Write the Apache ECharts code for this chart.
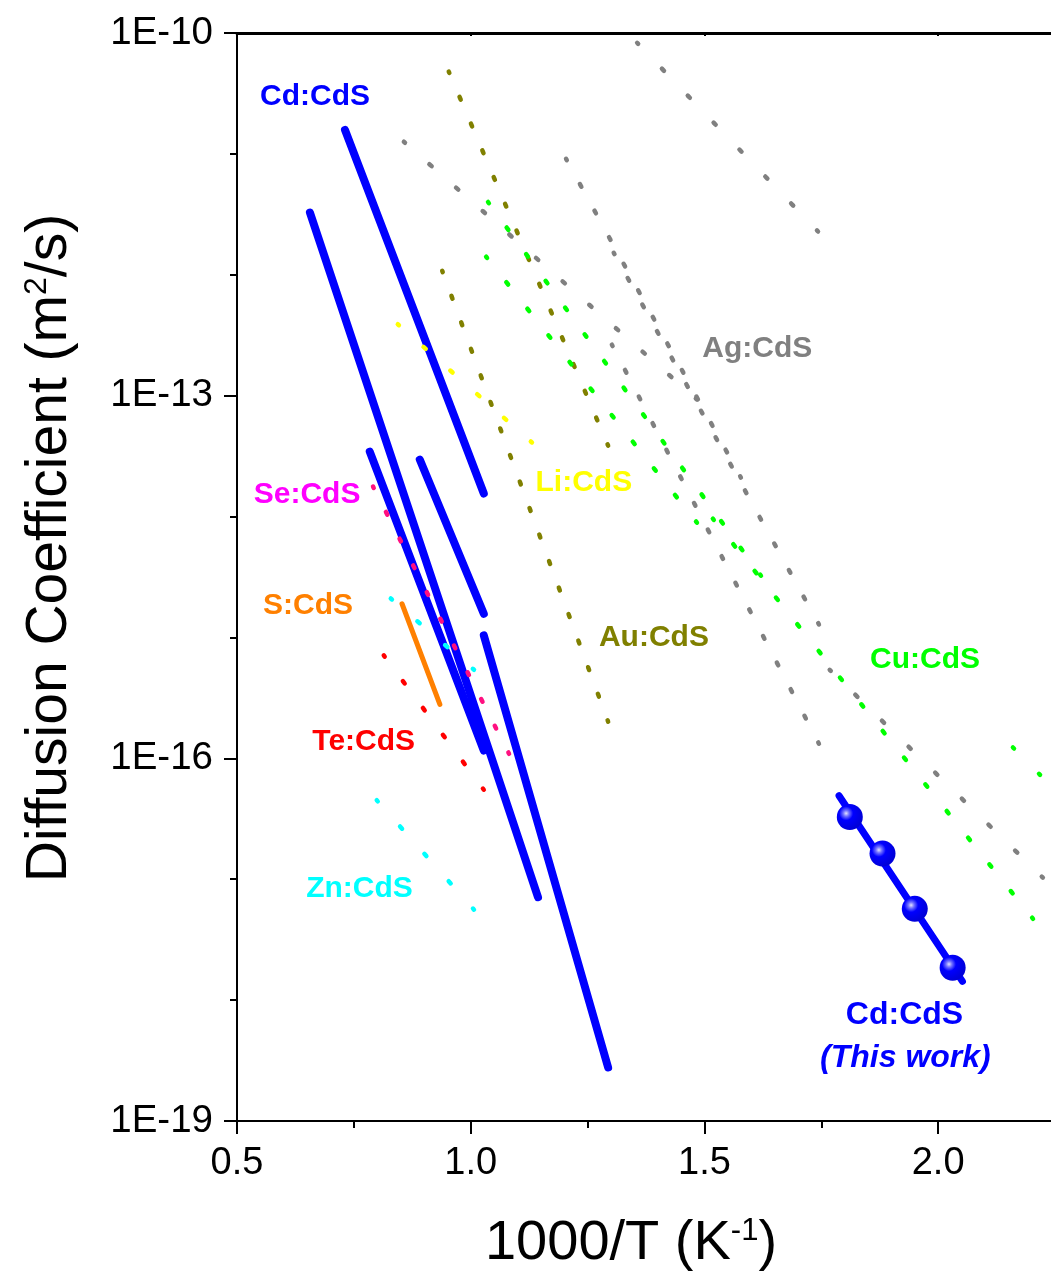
<!DOCTYPE html>
<html><head><meta charset="utf-8">
<script src="https://cdn.jsdelivr.net/npm/echarts@6/dist/echarts.min.js"></script>
<style>html,body{margin:0;padding:0;background:#fff;overflow:hidden}#c{width:1055px;height:1277px}</style>
</head><body><div id="c"></div>
<script>
// ---- data: each literature line = two end points [1000/T (1/K), D (m^2/s)] ----
const cdA = [[0.731, 1.58e-11], [1.028, 1.55e-14]];
const cdB = [[0.656, 3.27e-12], [1.144, 7.1e-18]];
const cdC = [[0.784, 3.44e-14], [1.028, 1.16e-16]];
const cdD = [[0.891, 2.96e-14], [1.028, 1.57e-15]];
const cdE = [[1.028, 1.04e-15], [1.294, 2.77e-19]];
const sCdS = [[0.853, 1.9e-15], [0.934, 2.79e-16]];
const seCdS = [[0.791, 1.77e-14], [1.082, 1.09e-16]];
const teCdS = [[0.814, 7.1e-16], [1.028, 5.5e-17]];
const znCdS1 = [[0.829, 2.1e-15], [1.007, 5.4e-16]];
const znCdS2 = [[0.799, 4.5e-17], [1.007, 5.6e-18]];
const liCdS = [[0.844, 3.9e-13], [1.131, 4.1e-14]];
const auCdS1 = [[0.953, 4.8e-11], [1.294, 3.86e-14]];
const auCdS2 = [[0.939, 1.08e-12], [1.294, 2.01e-16]];
const agCdS1 = [[1.356, 8.3e-11], [1.743, 2.28e-12]];
const agCdS2 = [[0.857, 1.26e-11], [1.484, 9.3e-14]];
const agCdS3 = [[1.204, 9.1e-12], [1.578, 2.1e-14]];
const agCdS4 = [[1.306, 1.52e-12], [1.745, 1.28e-15]];
const agCdS5 = [[1.302, 2.64e-13], [1.745, 1.32e-16]];
const agCdS6 = [[1.768, 5.4e-16], [2.224, 1.03e-17]];
const cuCdS1 = [[1.037, 4.0e-12], [1.621, 3.24e-15]];
const cuCdS2 = [[1.033, 1.41e-12], [1.484, 8.9e-15]];
const cuCdS3 = [[1.518, 9.6e-15], [2.203, 4.7e-18]];
const cuCdS4 = [[2.160, 1.23e-16], [2.218, 7.3e-17]];
// this work
const thisWorkX = [1.811, 1.881, 1.950, 2.031];
const thisWorkD = [3.27e-17, 1.63e-17, 5.69e-18, 1.85e-18];
const thisWorkFit = [[1.788, 4.9e-17], [2.052, 1.43e-18]];
// axis ticks
const xTicks = { min: 0.5, max: 2.25, step: 0.5 };
const yTicks = { min: 1e-19, max: 1e-10 };
// annotations [text, 1000/T, D, color]
const notes = [
  ['Cd:CdS', 0.667, 2.97e-11, '#0000ff'],
  ['Ag:CdS', 1.613, 2.45e-13, '#808080'],
  ['Li:CdS', 1.242, 1.91e-14, '#ffff00'],
  ['Se:CdS', 0.650, 1.52e-14, '#ff00ff'],
  ['S:CdS', 0.652, 1.84e-15, '#ff8000'],
  ['Au:CdS', 1.392, 9.86e-16, '#808000'],
  ['Cu:CdS', 1.972, 6.6e-16, '#00ff00'],
  ['Te:CdS', 0.771, 1.37e-16, '#ff0000'],
  ['Zn:CdS', 0.762, 8.36e-18, '#00ffff']
];
const thisWorkNotes = [
  ['Cd:CdS', 1.928, 7.5e-19, 'normal'],
  ['(This work)', 1.930, 3.3e-19, 'italic']
];

const FONT = '"Liberation Sans", Arial, Helvetica, sans-serif';
const chart = echarts.init(document.getElementById('c'));
const blue = '#0000ff';

function solid(name, data, color, width) {
  return { type: 'line', name, data, symbol: 'none', silent: true, z: 2,
    lineStyle: { color, width, cap: 'round' } };
}
// dotted lines: [name, data, colour, number of dot gaps seen along the line]
const dottedDefs = [
  ['Se:CdS', seCdS, '#ff1080', 10],
  ['Te:CdS', teCdS, '#ff0000', 5],
  ['Zn:CdS 1', znCdS1, '#00ffff', 3],
  ['Zn:CdS 2', znCdS2, '#00ffff', 4],
  ['Li:CdS', liCdS, '#ffff00', 5],
  ['Au:CdS 1', auCdS1, '#808000', 14],
  ['Au:CdS 2', auCdS2, '#808000', 17],
  ['Ag:CdS 1', agCdS1, '#808080', 7],
  ['Ag:CdS 2', agCdS2, '#808080', 11],
  ['Ag:CdS 3', agCdS3, '#808080', 12],
  ['Ag:CdS 4', agCdS4, '#808080', 14],
  ['Ag:CdS 5', agCdS5, '#808080', 15],
  ['Ag:CdS 6', agCdS6, '#808080', 8],
  ['Cu:CdS 1', cuCdS1, '#00ff00', 14],
  ['Cu:CdS 2', cuCdS2, '#00ff00', 10],
  ['Cu:CdS 3', cuCdS3, '#00ff00', 15],
  ['Cu:CdS 4', cuCdS4, '#00ff00', 1]
];
function dotted(d) {
  return { type: 'line', name: d[0], data: d[1], symbol: 'none', silent: true, z: 3,
    lineStyle: { color: d[2], width: 4.5, type: [3, 28], cap: 'round' } };
}
const series = [
  solid('Cd:CdS a', cdA, blue, 8), solid('Cd:CdS b', cdB, blue, 8),
  solid('Cd:CdS c', cdC, blue, 8), solid('Cd:CdS d', cdD, blue, 8),
  solid('Cd:CdS e', cdE, blue, 8),
  solid('S:CdS', sCdS, '#ff8000', 5)
].concat(dottedDefs.map(dotted)).concat([
  { type: 'line', name: 'This work fit', data: thisWorkFit, symbol: 'none', z: 4,
    lineStyle: { color: blue, width: 7, cap: 'round' } },
  { type: 'scatter', name: 'This work', z: 5, symbolSize: 26,
    data: thisWorkX.map((x, i) => [x, thisWorkD[i]]),
    itemStyle: { opacity: 1, color: new echarts.graphic.RadialGradient(0.36, 0.36, 0.64, [
      { offset: 0, color: '#e0e0ff' }, { offset: 0.18, color: '#7070ff' },
      { offset: 0.42, color: '#0000ff' }, { offset: 1, color: '#0000d8' }]) } }
]);
const firstDotted = 6;

const axisLineStyle = { color: '#000', width: 2 };
const xBase = { type: 'value', min: xTicks.min, max: xTicks.max, interval: xTicks.step,
  splitLine: { show: false }, minorSplitLine: { show: false } };
const yBase = { type: 'log', logBase: 10, min: yTicks.min, max: yTicks.max,
  splitLine: { show: false }, minorSplitLine: { show: false } };

chart.setOption({
  animation: false,
  backgroundColor: '#fff',
  grid: { left: 237, top: 33, right: 0, bottom: 156 },
  xAxis: [
    Object.assign({}, xBase, { position: 'bottom',
      axisLine: { show: true, onZero: false, lineStyle: axisLineStyle },
      axisTick: { show: true, length: 13, lineStyle: axisLineStyle },
      minorTick: { show: true, splitNumber: 2, length: 7, lineStyle: axisLineStyle },
      axisLabel: { show: true, fontSize: 38, color: '#000', fontFamily: FONT, margin: 24,
        showMaxLabel: false, formatter: v => v.toFixed(1) } }),
    Object.assign({}, xBase, { position: 'top',
      axisLine: { show: true, onZero: false, lineStyle: { color: '#000', width: 3 } },
      axisTick: { show: true, inside: true, length: 3, lineStyle: axisLineStyle },
      minorTick: { show: false },
      axisLabel: { show: false } })
  ],
  yAxis: [
    Object.assign({}, yBase, { position: 'left', interval: 1,
      axisLine: { show: true, onZero: false, lineStyle: axisLineStyle },
      axisTick: { show: true, length: 7, lineStyle: axisLineStyle },
      axisLabel: { show: false } }),
    Object.assign({}, yBase, { position: 'left', interval: 3,
      axisLine: { show: false },
      axisTick: { show: true, length: 13, lineStyle: axisLineStyle },
      axisLabel: { show: true, fontSize: 38.5, color: '#000', fontFamily: FONT, margin: 24,
        formatter: v => '1E' + Math.round(Math.log10(v)) } })
  ],
  series
});

const finder = { xAxisIndex: 0, yAxisIndex: 0 };
// spread the dots so one sits at each end of every dotted line
const dash = 3;
const seriesUpdate = series.map(() => ({}));
dottedDefs.forEach((d, i) => {
  const a = chart.convertToPixel(finder, d[1][0]);
  const b = chart.convertToPixel(finder, d[1][1]);
  const spacing = Math.hypot(b[0] - a[0], b[1] - a[1]) / d[3];
  seriesUpdate[firstDotted + i] = { lineStyle: { type: [dash, spacing - dash], dashOffset: dash / 2 } };
});

const rich = (big, small) => ({
  n: { fontSize: big, lineHeight: big, fontFamily: FONT, fill: '#000' },
  s: { fontSize: small, lineHeight: 11, verticalAlign: 'top', fontFamily: FONT, fill: '#000' }
});
const graphics = [
  { type: 'text', x: 50, y: 548, rotation: Math.PI / 2,
    style: { text: '{n|Diffusion Coefficient (m}{s|2}{n|/s)}', rich: rich(57, 32), align: 'center', verticalAlign: 'middle' } },
  { type: 'text', x: 631, y: 1244,
    style: { text: '{n|1000/T (K}{s|-1}{n|)}', rich: rich(56, 31), align: 'center', verticalAlign: 'middle' } }
];
notes.forEach(n => {
  const p = chart.convertToPixel(finder, [n[1], n[2]]);
  graphics.push({ type: 'text', x: p[0], y: p[1], z: 10,
    style: { text: n[0], fill: n[3], fontSize: 30, fontWeight: 'bold', fontFamily: FONT,
      align: 'center', verticalAlign: 'middle' } });
});
thisWorkNotes.forEach(n => {
  const p = chart.convertToPixel(finder, [n[1], n[2]]);
  graphics.push({ type: 'text', x: p[0], y: p[1], z: 10,
    style: { text: n[0], fill: blue, fontSize: 32, fontWeight: 'bold', fontStyle: n[3], fontFamily: FONT,
      align: 'center', verticalAlign: 'middle' } });
});
chart.setOption({ series: seriesUpdate, graphic: graphics });
</script>
</body></html>
